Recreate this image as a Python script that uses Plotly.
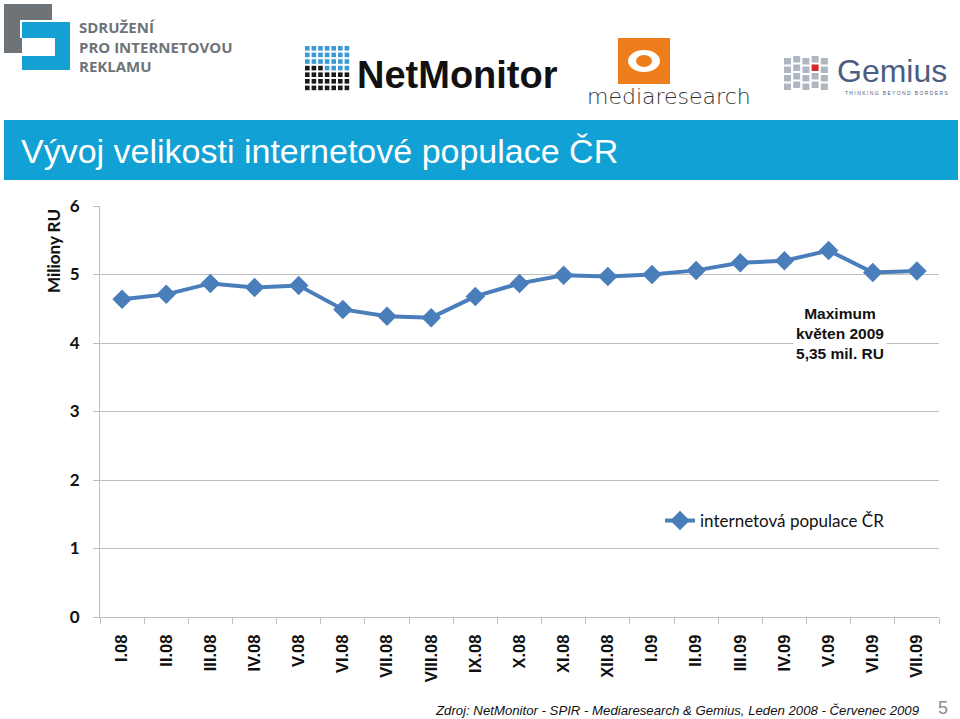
import plotly.graph_objects as go

# ---- data ----
months = ["I.08", "II.08", "III.08", "IV.08", "V.08", "VI.08", "VII.08", "VIII.08",
          "IX.08", "X.08", "XI.08", "XII.08", "I.09", "II.09", "III.09", "IV.09",
          "V.09", "VI.09", "VII.09"]
population = [4.64, 4.71, 4.87, 4.81, 4.84, 4.49, 4.39, 4.37, 4.68, 4.87, 4.99,
              4.97, 5.00, 5.06, 5.17, 5.20, 5.35, 5.03, 5.05]
y_ticks = [0, 1, 2, 3, 4, 5, 6]
series_name = "internetová populace ČR"
title_text = "Vývoj velikosti internetové populace ČR"
y_title = "Miliony RU"
note_text = "Maximum<br>květen 2009<br>5,35 mil. RU"
source_text = "Zdroj: NetMonitor - SPIR - Mediaresearch & Gemius, Leden 2008 - Červenec 2009"
page_no = "5"

W, H = 960, 719
L, R, T, B = 100, 939, 206, 617  # plot area in pixels


def px(x):
    return (x - L) / (R - L)


def py(y):
    return (B - y) / (B - T)


LINE = "#4A7EBB"
GRID = "#BEBEBE"
BLUE_BAR = "#12A1D4"

fig = go.Figure()
fig.add_trace(go.Scatter(
    x=months, y=population, name=series_name, mode="lines+markers",
    line=dict(color=LINE, width=4),
    marker=dict(symbol="diamond", size=15, color=LINE),
))

shapes = []
annotations = []

# title bar
shapes.append(dict(type="rect", xref="paper", yref="paper", x0=px(4), x1=px(958),
                   y0=py(180), y1=py(120), fillcolor=BLUE_BAR, line=dict(width=0), layer="below"))
annotations.append(dict(text=title_text, xref="paper", yref="paper", x=px(19), y=py(151),
                        xanchor="left", yanchor="middle", showarrow=False,
                        font=dict(family="Liberation Sans Narrow, Arial Narrow, Liberation Sans", size=34, color="white")))

# --- SPIR logo ---
GRAY_L = "#6E7378"
CYAN_L = "#14A0D2"
shapes += [
    dict(type="rect", xref="paper", yref="paper", x0=px(4), x1=px(52), y0=py(53), y1=py(4),
         fillcolor=GRAY_L, line=dict(width=0)),
    dict(type="rect", xref="paper", yref="paper", x0=px(20), x1=px(52), y0=py(38), y1=py(20),
         fillcolor="white", line=dict(width=0)),
    dict(type="rect", xref="paper", yref="paper", x0=px(22), x1=px(70), y0=py(70), y1=py(22),
         fillcolor=CYAN_L, line=dict(width=0)),
    dict(type="rect", xref="paper", yref="paper", x0=px(22), x1=px(55), y0=py(56), y1=py(38),
         fillcolor="white", line=dict(width=0)),
]
annotations.append(dict(text="SDRUŽENÍ<br>PRO INTERNETOVOU<br>REKLAMU", xref="paper", yref="paper",
                        x=px(77), y=py(46), xanchor="left", yanchor="middle", align="left",
                        showarrow=False,
                        font=dict(family="Open Sans", size=15, color=GRAY_L, weight="bold")))

# --- NetMonitor logo ---
for r in range(7):
    for c in range(7):
        col = "#3A9AD6" if r < 4 else "#1A1A1A"
        if r == 3 and c < 3:
            col = "#1A1A1A"
        x0 = 305 + c * 6.6
        y0 = 46 + r * 6.6
        shapes.append(dict(type="rect", xref="paper", yref="paper", x0=px(x0), x1=px(x0 + 4.6),
                           y0=py(y0 + 4.6), y1=py(y0), fillcolor=col, line=dict(width=0)))
annotations.append(dict(text="<b>NetMonitor</b>", xref="paper", yref="paper", x=px(355), y=py(75),
                        xanchor="left", yanchor="middle", showarrow=False,
                        font=dict(family="Liberation Sans Narrow, Liberation Sans", size=38, color="#111111")))

# --- mediaresearch logo ---
shapes += [
    dict(type="rect", xref="paper", yref="paper", x0=px(618), x1=px(670), y0=py(84), y1=py(38),
         fillcolor="#EE7D1C", line=dict(width=0)),
    dict(type="circle", xref="paper", yref="paper", x0=px(628), x1=px(660), y0=py(72), y1=py(50),
         fillcolor="white", line=dict(width=0)),
    dict(type="circle", xref="paper", yref="paper", x0=px(636), x1=px(652), y0=py(67), y1=py(55),
         fillcolor="#EE7D1C", line=dict(width=0)),
]
annotations.append(dict(text="mediaresearch", xref="paper", yref="paper", x=px(585), y=py(96),
                        xanchor="left", yanchor="middle", showarrow=False,
                        font=dict(family="DejaVu Sans ExtraLight, DejaVu Sans", size=22, color="#333333", weight=200)))

# --- Gemius logo ---
for c in range(5):
    for r in range(4):
        col = "#AEB6C2"
        if c == 3 and r == 1:
            col = "#D42A2A"
        x0 = 784 + c * 9.2
        y0 = 58 + r * 8.5 - (c % 2) * 2
        shapes.append(dict(type="rect", xref="paper", yref="paper", x0=px(x0), x1=px(x0 + 7),
                           y0=py(y0 + 6.5), y1=py(y0), fillcolor=col, line=dict(width=0)))
annotations.append(dict(text="Gemius", xref="paper", yref="paper", x=px(835), y=py(71),
                        xanchor="left", yanchor="middle", showarrow=False,
                        font=dict(family="Liberation Sans", size=32, color="#4B5D80")))
annotations.append(dict(text="T H I N K I N G   B E Y O N D   B O R D E R S", xref="paper", yref="paper",
                        x=px(896), y=py(93), xanchor="center", yanchor="middle", showarrow=False,
                        font=dict(family="Liberation Sans", size=5, color="#4B5D80")))

# y axis title
annotations.append(dict(text="<b>" + y_title + "</b>", xref="paper", yref="paper", x=px(53), y=py(251),
                        xanchor="center", yanchor="middle", textangle=-90, showarrow=False,
                        font=dict(family="Lato, Open Sans", size=17, color="#111111")))

# maximum note
annotations.append(dict(text="<b>" + note_text + "</b>", xref="paper", yref="paper", x=px(840), y=py(333),
                        xanchor="center", yanchor="middle", showarrow=False, bgcolor="white",
                        borderpad=2, font=dict(family="Liberation Sans", size=15.5, color="#111111")))

# source + page number
annotations.append(dict(text="<i>" + source_text + "</i>", xref="paper", yref="paper", x=px(922), y=py(710),
                        xanchor="right", yanchor="middle", showarrow=False,
                        font=dict(family="Liberation Sans Narrow, Liberation Sans", size=13.2, color="#111111")))
annotations.append(dict(text=page_no, xref="paper", yref="paper", x=px(943), y=py(708),
                        xanchor="center", yanchor="middle", showarrow=False,
                        font=dict(family="Liberation Sans", size=18, color="#8C8C8C")))

fig.update_layout(
    width=W, height=H,
    margin=dict(l=L, r=W - R, t=T, b=H - B, pad=0),
    paper_bgcolor="white", plot_bgcolor="white",
    showlegend=True,
    legend=dict(x=px(660), y=py(521), xanchor="left", yanchor="middle",
                font=dict(family="Lato, Open Sans", size=17, color="#111111"),
                bgcolor="rgba(0,0,0,0)", itemwidth=30),
    shapes=shapes, annotations=annotations,
    xaxis=dict(type="category", categoryorder="array", categoryarray=months,
               tickson="boundaries", ticks="outside", ticklen=6, tickcolor=GRID,
               showline=True, linecolor=GRID, linewidth=1, showgrid=False,
               tickangle=-90, ticklabelstandoff=10,
               tickfont=dict(family="Liberation Sans", size=16.5, color="#111111", weight="bold"),
               range=[-0.5, len(months) - 0.5], fixedrange=True),
    yaxis=dict(range=[0, 6], tickvals=y_ticks, ticktext=[str(v) for v in y_ticks],
               showgrid=True, gridcolor=GRID, gridwidth=1, zeroline=False,
               showline=True, linecolor=GRID, ticks="outside", ticklen=6, tickcolor=GRID,
               ticklabelstandoff=10,
               tickfont=dict(family="Lato, Open Sans", size=17, color="#111111", weight="bold"),
               fixedrange=True),
)

fig.write_html("out.html", config={"displayModeBar": False},
               post_script="document.body.style.margin='0';document.body.style.overflow='hidden';")
